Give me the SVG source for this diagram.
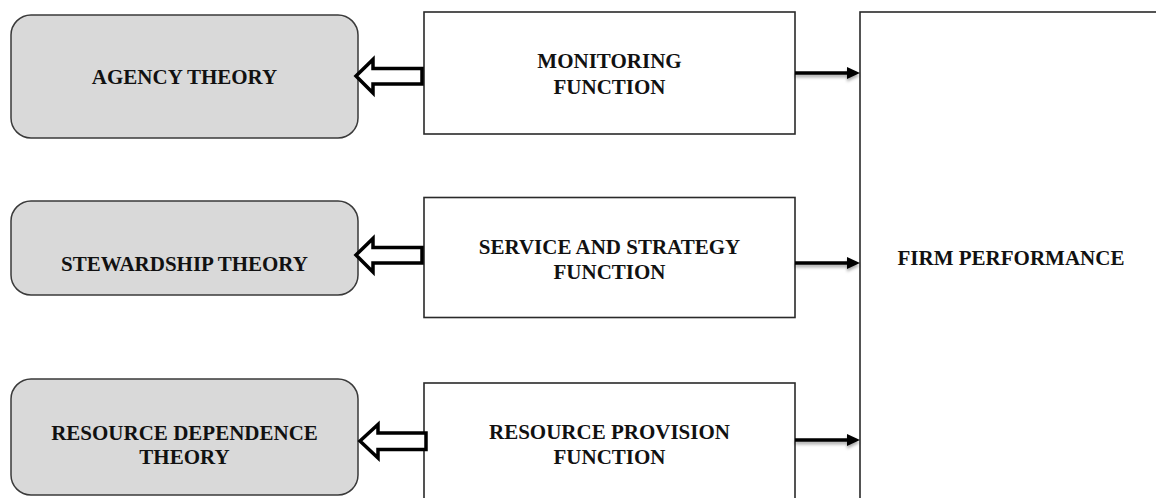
<svg xmlns="http://www.w3.org/2000/svg" width="1156" height="498" viewBox="0 0 1156 498">
  <style>
    .theory { fill: #d9d9d9; stroke: #3a3a3a; stroke-width: 1.5; }
    .func { fill: #ffffff; stroke: #2a2a2a; stroke-width: 1.6; }
    .lbl { font-family: "Liberation Serif", "Times New Roman", serif; font-weight: bold; font-size: 21px; fill: #111; text-anchor: middle; }
    .hollow { fill: #ffffff; stroke: #000; stroke-width: 3.5; stroke-linejoin: miter; }
    .link { stroke: #000; stroke-width: 3.5; fill: none; }
    .tip { fill: #000; }
  </style>
  <defs>
    <filter id="soft" x="-10%" y="-100%" width="120%" height="400%">
      <feDropShadow dx="0" dy="2.5" stdDeviation="1.5" flood-color="#000" flood-opacity="0.35"/>
    </filter>
  </defs>

  <rect x="0" y="0" width="1156" height="498" fill="#ffffff"/>

  <!-- theory boxes -->
  <g id="agency-theory">
    <rect class="theory" x="11" y="15" width="347" height="123" rx="20" ry="20"/>
    <text class="lbl" x="184.5" y="84">AGENCY THEORY</text>
  </g>
  <g id="stewardship-theory">
    <rect class="theory" x="11" y="201" width="347" height="94" rx="20" ry="20"/>
    <text class="lbl" x="184.5" y="271">STEWARDSHIP THEORY</text>
  </g>
  <g id="resource-dependence-theory">
    <rect class="theory" x="11" y="379" width="347" height="116" rx="20" ry="20"/>
    <text class="lbl" x="184.5" y="440">RESOURCE DEPENDENCE</text>
    <text class="lbl" x="184.5" y="464">THEORY</text>
  </g>

  <!-- board function boxes -->
  <g id="monitoring-function">
    <rect class="func" x="424" y="12" width="371" height="122"/>
    <text class="lbl" x="609.5" y="68">MONITORING</text>
    <text class="lbl" x="609.5" y="94">FUNCTION</text>
  </g>
  <g id="service-strategy-function">
    <rect class="func" x="424" y="197.5" width="371" height="120"/>
    <text class="lbl" x="609.5" y="254">SERVICE AND STRATEGY</text>
    <text class="lbl" x="609.5" y="279">FUNCTION</text>
  </g>
  <g id="resource-provision-function">
    <rect class="func" x="424" y="383" width="371" height="130"/>
    <text class="lbl" x="609.5" y="439">RESOURCE PROVISION</text>
    <text class="lbl" x="609.5" y="464">FUNCTION</text>
  </g>

  <!-- outcome box -->
  <g id="firm-performance">
    <rect class="func" x="860" y="12" width="320" height="500"/>
    <text class="lbl" x="1011" y="265">FIRM PERFORMANCE</text>
  </g>

  <!-- connectors -->
  <g id="connectors">
    <!-- hollow block arrows: function to theory -->
    <polygon class="hollow" points="356,76 373,59.5 373,68.5 422,68.5 422,84 373,84 373,93"/>
    <polygon class="hollow" points="356,255 373,238.5 373,247.5 422,247.5 422,263 373,263 373,272"/>
    <polygon class="hollow" points="360,441 378,424.5 378,433 426,433 426,449.5 378,449.5 378,458"/>

    <!-- solid arrows: function to firm performance -->
    <g filter="url(#soft)">
      <line class="link" x1="795" y1="73" x2="849" y2="73"/>
      <polygon class="tip" points="847,67 860,73 847,79"/>
      <line class="link" x1="795" y1="263" x2="849" y2="263"/>
      <polygon class="tip" points="847,257 860,263 847,269"/>
      <line class="link" x1="795" y1="440" x2="849" y2="440"/>
      <polygon class="tip" points="847,434 860,440 847,446"/>
    </g>
  </g>
</svg>
